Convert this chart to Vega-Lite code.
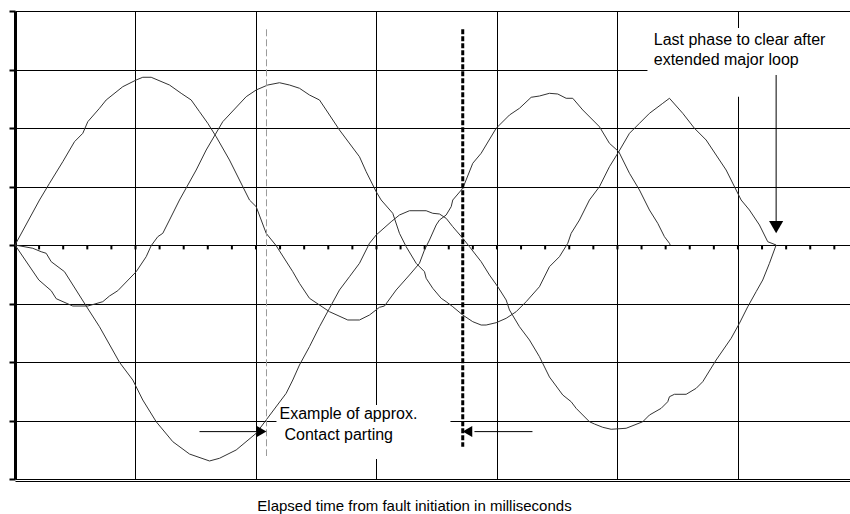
{
  "$schema": "https://vega.github.io/schema/vega-lite/v6.json",
  "width": 835,
  "height": 468,
  "autosize": {"type": "none"},
  "padding": {"left": 15, "top": 11, "right": 0, "bottom": 35},
  "background": "white",
  "config": {"view": {"stroke": null}, "font": "Liberation Sans"},
  "datasets": {
    "waves": [
      {"p": "A", "t": 0, "v": 0}, {"p": "A", "t": 1.017, "v": 0.769}, {"p": "A", "t": 1.432, "v": 1.055}, {"p": "A", "t": 1.983, "v": 1.424},
      {"p": "A", "t": 2.469, "v": 1.766}, {"p": "A", "t": 2.813, "v": 1.909}, {"p": "A", "t": 3.021, "v": 2.108}, {"p": "A", "t": 3.506, "v": 2.337},
      {"p": "A", "t": 3.784, "v": 2.479}, {"p": "A", "t": 4.473, "v": 2.706}, {"p": "A", "t": 5.029, "v": 2.821}, {"p": "A", "t": 5.303, "v": 2.867},
      {"p": "A", "t": 5.651, "v": 2.867}, {"p": "A", "t": 6.411, "v": 2.735}, {"p": "A", "t": 6.896, "v": 2.593}, {"p": "A", "t": 7.311, "v": 2.479},
      {"p": "A", "t": 7.656, "v": 2.279}, {"p": "A", "t": 8.0, "v": 2.08}, {"p": "A", "t": 8.349, "v": 1.851}, {"p": "A", "t": 8.9, "v": 1.453},
      {"p": "A", "t": 9.315, "v": 1.111}, {"p": "A", "t": 9.73, "v": 0.769}, {"p": "A", "t": 10.008, "v": 0.655}, {"p": "A", "t": 10.423, "v": 0.2},
      {"p": "A", "t": 10.838, "v": -0.012}, {"p": "A", "t": 11.527, "v": -0.456}, {"p": "A", "t": 11.805, "v": -0.655}, {"p": "A", "t": 12.22, "v": -0.911},
      {"p": "A", "t": 13.05, "v": -1.14}, {"p": "A", "t": 13.809, "v": -1.282}, {"p": "A", "t": 14.295, "v": -1.282}, {"p": "A", "t": 14.71, "v": -1.197},
      {"p": "A", "t": 15.124, "v": -1.065}, {"p": "A", "t": 15.332, "v": -1.043}, {"p": "A", "t": 15.817, "v": -0.769}, {"p": "A", "t": 16.369, "v": -0.513},
      {"p": "A", "t": 16.784, "v": -0.313}, {"p": "A", "t": 16.992, "v": -0.085}, {"p": "A", "t": 17.199, "v": 0.085}, {"p": "A", "t": 17.477, "v": 0.342},
      {"p": "A", "t": 17.614, "v": 0.427}, {"p": "A", "t": 17.892, "v": 0.513}, {"p": "A", "t": 18.1, "v": 0.655}, {"p": "A", "t": 18.166, "v": 0.769},
      {"p": "A", "t": 18.581, "v": 0.969}, {"p": "A", "t": 18.996, "v": 1.397}, {"p": "A", "t": 19.344, "v": 1.568}, {"p": "A", "t": 19.967, "v": 1.995},
      {"p": "A", "t": 20.519, "v": 2.222}, {"p": "A", "t": 20.934, "v": 2.337}, {"p": "A", "t": 21.419, "v": 2.525}, {"p": "A", "t": 21.763, "v": 2.547},
      {"p": "A", "t": 22.178, "v": 2.593}, {"p": "A", "t": 22.523, "v": 2.581}, {"p": "A", "t": 22.871, "v": 2.508}, {"p": "A", "t": 23.145, "v": 2.508},
      {"p": "A", "t": 23.56, "v": 2.308}, {"p": "A", "t": 24.253, "v": 2.022}, {"p": "A", "t": 24.668, "v": 1.738}, {"p": "A", "t": 25.054, "v": 1.595},
      {"p": "A", "t": 25.498, "v": 1.226}, {"p": "A", "t": 25.913, "v": 0.94}, {"p": "A", "t": 26.12, "v": 0.769}, {"p": "A", "t": 26.328, "v": 0.598},
      {"p": "A", "t": 26.672, "v": 0.371}, {"p": "A", "t": 26.95, "v": 0.142}, {"p": "A", "t": 27.158, "v": 0.029}, {"p": "A", "t": 27.187, "v": 0},

      {"p": "B", "t": 0, "v": 0}, {"p": "B", "t": 0.988, "v": -0.598}, {"p": "B", "t": 1.502, "v": -0.781}, {"p": "B", "t": 1.71, "v": -0.918},
      {"p": "B", "t": 2.398, "v": -1.043}, {"p": "B", "t": 3.021, "v": -1.043}, {"p": "B", "t": 3.643, "v": -0.969}, {"p": "B", "t": 3.921, "v": -0.872},
      {"p": "B", "t": 4.266, "v": -0.781}, {"p": "B", "t": 5.029, "v": -0.456}, {"p": "B", "t": 5.444, "v": -0.2}, {"p": "B", "t": 5.651, "v": -0.012},
      {"p": "B", "t": 5.925, "v": 0.142}, {"p": "B", "t": 6.133, "v": 0.2}, {"p": "B", "t": 6.411, "v": 0.427}, {"p": "B", "t": 6.826, "v": 0.769},
      {"p": "B", "t": 7.519, "v": 1.282}, {"p": "B", "t": 7.934, "v": 1.624}, {"p": "B", "t": 8.622, "v": 2.108}, {"p": "B", "t": 9.593, "v": 2.535},
      {"p": "B", "t": 10.008, "v": 2.65}, {"p": "B", "t": 10.49, "v": 2.735}, {"p": "B", "t": 10.975, "v": 2.774}, {"p": "B", "t": 11.39, "v": 2.735},
      {"p": "B", "t": 11.805, "v": 2.679}, {"p": "B", "t": 12.22, "v": 2.564}, {"p": "B", "t": 12.635, "v": 2.479}, {"p": "B", "t": 12.913, "v": 2.308},
      {"p": "B", "t": 13.465, "v": 1.966}, {"p": "B", "t": 14.295, "v": 1.509}, {"p": "B", "t": 14.573, "v": 1.253}, {"p": "B", "t": 14.988, "v": 0.911},
      {"p": "B", "t": 15.195, "v": 0.769}, {"p": "B", "t": 15.676, "v": 0.542}, {"p": "B", "t": 15.954, "v": 0.2}, {"p": "B", "t": 16.232, "v": -0.029},
      {"p": "B", "t": 16.647, "v": -0.313}, {"p": "B", "t": 16.992, "v": -0.456}, {"p": "B", "t": 17.062, "v": -0.569}, {"p": "B", "t": 17.336, "v": -0.74},
      {"p": "B", "t": 17.685, "v": -0.911}, {"p": "B", "t": 17.892, "v": -0.969}, {"p": "B", "t": 18.166, "v": -1.055}, {"p": "B", "t": 18.581, "v": -1.197},
      {"p": "B", "t": 18.996, "v": -1.311}, {"p": "B", "t": 19.344, "v": -1.368}, {"p": "B", "t": 19.552, "v": -1.368}, {"p": "B", "t": 19.967, "v": -1.328},
      {"p": "B", "t": 20.382, "v": -1.253}, {"p": "B", "t": 20.797, "v": -1.14}, {"p": "B", "t": 21.212, "v": -0.969}, {"p": "B", "t": 21.763, "v": -0.713},
      {"p": "B", "t": 22.178, "v": -0.371}, {"p": "B", "t": 22.593, "v": -0.2}, {"p": "B", "t": 22.938, "v": 0.029}, {"p": "B", "t": 23.079, "v": 0.2},
      {"p": "B", "t": 23.423, "v": 0.427}, {"p": "B", "t": 23.838, "v": 0.769}, {"p": "B", "t": 24.253, "v": 0.997}, {"p": "B", "t": 24.668, "v": 1.338},
      {"p": "B", "t": 25.054, "v": 1.595}, {"p": "B", "t": 25.498, "v": 1.909}, {"p": "B", "t": 25.913, "v": 2.08}, {"p": "B", "t": 26.328, "v": 2.251},
      {"p": "B", "t": 26.88, "v": 2.422}, {"p": "B", "t": 27.158, "v": 2.508}, {"p": "B", "t": 27.71, "v": 2.251}, {"p": "B", "t": 28.195, "v": 1.995},
      {"p": "B", "t": 28.68, "v": 1.795}, {"p": "B", "t": 29.095, "v": 1.538}, {"p": "B", "t": 29.51, "v": 1.282}, {"p": "B", "t": 29.925, "v": 0.94},
      {"p": "B", "t": 30.133, "v": 0.769}, {"p": "B", "t": 30.477, "v": 0.598}, {"p": "B", "t": 30.892, "v": 0.342}, {"p": "B", "t": 31.237, "v": 0.056},
      {"p": "B", "t": 31.585, "v": 0},

      {"p": "C", "t": 0, "v": 0}, {"p": "C", "t": 0.739, "v": -0.056}, {"p": "C", "t": 1.087, "v": -0.115}, {"p": "C", "t": 1.295, "v": -0.142},
      {"p": "C", "t": 1.502, "v": -0.285}, {"p": "C", "t": 2.054, "v": -0.456}, {"p": "C", "t": 2.954, "v": -1.043}, {"p": "C", "t": 3.506, "v": -1.397},
      {"p": "C", "t": 4.336, "v": -2.005}, {"p": "C", "t": 4.888, "v": -2.308}, {"p": "C", "t": 5.303, "v": -2.65}, {"p": "C", "t": 5.859, "v": -3.021},
      {"p": "C", "t": 6.548, "v": -3.362}, {"p": "C", "t": 7.241, "v": -3.573}, {"p": "C", "t": 8.071, "v": -3.692}, {"p": "C", "t": 8.485, "v": -3.646},
      {"p": "C", "t": 9.178, "v": -3.504}, {"p": "C", "t": 10.008, "v": -3.219}, {"p": "C", "t": 10.423, "v": -2.991}, {"p": "C", "t": 11.253, "v": -2.535},
      {"p": "C", "t": 11.527, "v": -2.308}, {"p": "C", "t": 11.805, "v": -2.051}, {"p": "C", "t": 12.22, "v": -1.738}, {"p": "C", "t": 12.635, "v": -1.397},
      {"p": "C", "t": 13.05, "v": -1.082}, {"p": "C", "t": 13.465, "v": -0.769}, {"p": "C", "t": 13.88, "v": -0.542}, {"p": "C", "t": 14.295, "v": -0.313},
      {"p": "C", "t": 14.71, "v": 0.029}, {"p": "C", "t": 14.988, "v": 0.171}, {"p": "C", "t": 15.61, "v": 0.398}, {"p": "C", "t": 15.954, "v": 0.513},
      {"p": "C", "t": 16.369, "v": 0.586}, {"p": "C", "t": 17.062, "v": 0.586}, {"p": "C", "t": 17.336, "v": 0.542}, {"p": "C", "t": 17.614, "v": 0.53},
      {"p": "C", "t": 17.892, "v": 0.456}, {"p": "C", "t": 18.166, "v": 0.313}, {"p": "C", "t": 18.581, "v": 0.115}, {"p": "C", "t": 18.859, "v": -0.029},
      {"p": "C", "t": 19.344, "v": -0.285}, {"p": "C", "t": 19.689, "v": -0.513}, {"p": "C", "t": 20.033, "v": -0.713}, {"p": "C", "t": 20.382, "v": -0.94},
      {"p": "C", "t": 20.519, "v": -1.111}, {"p": "C", "t": 20.934, "v": -1.397}, {"p": "C", "t": 21.349, "v": -1.624}, {"p": "C", "t": 21.763, "v": -1.909},
      {"p": "C", "t": 22.178, "v": -2.256}, {"p": "C", "t": 22.73, "v": -2.564}, {"p": "C", "t": 23.079, "v": -2.679}, {"p": "C", "t": 23.286, "v": -2.792},
      {"p": "C", "t": 23.838, "v": -3.021}, {"p": "C", "t": 24.046, "v": -3.06}, {"p": "C", "t": 24.39, "v": -3.116}, {"p": "C", "t": 24.739, "v": -3.15},
      {"p": "C", "t": 25.361, "v": -3.133}, {"p": "C", "t": 26.05, "v": -3.021}, {"p": "C", "t": 26.328, "v": -2.906}, {"p": "C", "t": 26.813, "v": -2.792},
      {"p": "C", "t": 27.087, "v": -2.679}, {"p": "C", "t": 27.158, "v": -2.593}, {"p": "C", "t": 27.365, "v": -2.552}, {"p": "C", "t": 27.851, "v": -2.552},
      {"p": "C", "t": 28.266, "v": -2.45}, {"p": "C", "t": 28.539, "v": -2.337}, {"p": "C", "t": 29.095, "v": -1.966}, {"p": "C", "t": 29.718, "v": -1.595},
      {"p": "C", "t": 30.062, "v": -1.338}, {"p": "C", "t": 30.407, "v": -1.055}, {"p": "C", "t": 30.755, "v": -0.798}, {"p": "C", "t": 31.029, "v": -0.598},
      {"p": "C", "t": 31.307, "v": -0.313}, {"p": "C", "t": 31.585, "v": 0}
    ],
    "minorTicks": [
      {"t": 1}, {"t": 2}, {"t": 3}, {"t": 4}, {"t": 5}, {"t": 6}, {"t": 7}, {"t": 8}, {"t": 9}, {"t": 10},
      {"t": 11}, {"t": 12}, {"t": 13}, {"t": 14}, {"t": 15}, {"t": 16}, {"t": 17}, {"t": 18}, {"t": 19}, {"t": 20},
      {"t": 21}, {"t": 22}, {"t": 23}, {"t": 24}, {"t": 25}, {"t": 26}, {"t": 27}, {"t": 28}, {"t": 29}, {"t": 30},
      {"t": 31}, {"t": 32}, {"t": 33}, {"t": 34}
    ],
    "labelBoxes": [
      {"t": 26.245, "t2": 34.65, "v": 3.709, "v2": 2.535},
      {"t": 10.85, "t2": 18.07, "v": -2.735, "v2": -3.658}
    ],
    "partingFirst": [{"t": 10.436, "v": 3.687, "v2": -3.607}],
    "partingLast": [{"t": 18.58, "v": 3.687, "v2": -3.448}],
    "arrowShafts": [
      {"t": 31.585, "t2": 31.585, "v": 2.906, "v2": 0.393},
      {"t": 7.656, "t2": 10.062, "v": -3.19, "v2": -3.19},
      {"t": 21.473, "t2": 19.066, "v": -3.19, "v2": -3.19}
    ],
    "headDown": [{"t": 31.585, "v": 0.304}],
    "headRight": [{"t": 10.236, "v": -3.19}],
    "headLeft": [{"t": 18.776, "v": -3.19}],
    "notes": [
      {"t": 26.506, "v": 3.419, "label": "Last phase to clear after"},
      {"t": 26.506, "v": 3.077, "label": "extended major loop"},
      {"t": 10.975, "v": -2.979, "label": "Example of approx."},
      {"t": 11.183, "v": -3.333, "label": "Contact parting"}
    ]
  },
  "layer": [
    {
      "data": {"name": "labelBoxes"},
      "mark": {"type": "rect", "fill": "white", "stroke": null},
      "encoding": {
        "x": {
          "field": "t", "type": "quantitative",
          "scale": {"domain": [0, 34.65], "nice": false, "zero": false},
          "axis": {
            "title": "Elapsed time from fault initiation in milliseconds",
            "titleFont": "Liberation Sans", "titleFontSize": 15, "titleFontWeight": "normal", "titleColor": "black",
            "titleX": 399, "titleY": 29, "titleAlign": "center", "titleBaseline": "alphabetic",
            "values": [5, 10, 15, 20, 25, 30],
            "labels": false, "ticks": false,
            "domain": true, "domainColor": "black", "domainWidth": 1, "offset": 2,
            "grid": true, "gridColor": "black", "gridWidth": 1, "gridOpacity": 1
          }
        },
        "x2": {"field": "t2"},
        "y": {
          "field": "v", "type": "quantitative",
          "scale": {"domain": [-4, 4], "nice": false, "zero": false},
          "axis": {
            "title": null,
            "values": [-4, -3, -2, -1, 0, 1, 2, 3, 4],
            "labels": false,
            "ticks": true, "tickColor": "black", "tickSize": 6, "tickWidth": 2,
            "domain": true, "domainColor": "black", "domainWidth": 3,
            "grid": true, "gridColor": "black", "gridWidth": 1, "gridOpacity": 1
          }
        },
        "y2": {"field": "v2"}
      }
    },
    {
      "mark": {"type": "rule", "color": "black", "strokeWidth": 2.5},
      "encoding": {"y": {"datum": 4}}
    },
    {
      "mark": {"type": "rule", "color": "black", "strokeWidth": 2.5},
      "encoding": {"y": {"datum": 0}}
    },
    {
      "mark": {"type": "rule", "color": "black", "strokeWidth": 2},
      "encoding": {"y": {"datum": -4}}
    },
    {
      "data": {"name": "minorTicks"},
      "mark": {"type": "rule", "color": "black", "strokeWidth": 2, "strokeCap": "butt"},
      "encoding": {
        "x": {"field": "t", "type": "quantitative"},
        "y": {"datum": 0},
        "y2": {"datum": -0.075}
      }
    },
    {
      "data": {"name": "waves"},
      "mark": {"type": "line", "color": "#333333", "strokeWidth": 1},
      "encoding": {
        "x": {"field": "t", "type": "quantitative"},
        "y": {"field": "v", "type": "quantitative"},
        "detail": {"field": "p"}
      }
    },
    {
      "data": {"name": "partingFirst"},
      "mark": {"type": "rule", "color": "#9a9a9a", "strokeWidth": 1, "strokeDash": [7, 3]},
      "encoding": {
        "x": {"field": "t", "type": "quantitative"},
        "y": {"field": "v", "type": "quantitative"},
        "y2": {"field": "v2"}
      }
    },
    {
      "data": {"name": "partingLast"},
      "mark": {"type": "rule", "color": "black", "strokeWidth": 3, "strokeDash": [5, 2], "strokeCap": "butt"},
      "encoding": {
        "x": {"field": "t", "type": "quantitative"},
        "y": {"field": "v", "type": "quantitative"},
        "y2": {"field": "v2"}
      }
    },
    {
      "data": {"name": "arrowShafts"},
      "mark": {"type": "rule", "color": "black", "strokeWidth": 1},
      "encoding": {
        "x": {"field": "t", "type": "quantitative"},
        "x2": {"field": "t2"},
        "y": {"field": "v", "type": "quantitative"},
        "y2": {"field": "v2"}
      }
    },
    {
      "data": {"name": "headDown"},
      "mark": {"type": "point", "shape": "triangle-down", "filled": true, "color": "black", "opacity": 1, "size": 200},
      "encoding": {
        "x": {"field": "t", "type": "quantitative"},
        "y": {"field": "v", "type": "quantitative"}
      }
    },
    {
      "data": {"name": "headRight"},
      "mark": {"type": "point", "shape": "triangle-right", "filled": true, "color": "black", "opacity": 1, "size": 121},
      "encoding": {
        "x": {"field": "t", "type": "quantitative"},
        "y": {"field": "v", "type": "quantitative"}
      }
    },
    {
      "data": {"name": "headLeft"},
      "mark": {"type": "point", "shape": "triangle-left", "filled": true, "color": "black", "opacity": 1, "size": 121},
      "encoding": {
        "x": {"field": "t", "type": "quantitative"},
        "y": {"field": "v", "type": "quantitative"}
      }
    },
    {
      "data": {"name": "notes"},
      "mark": {"type": "text", "align": "left", "baseline": "alphabetic", "font": "Liberation Sans", "fontSize": 16, "color": "black"},
      "encoding": {
        "x": {"field": "t", "type": "quantitative"},
        "y": {"field": "v", "type": "quantitative"},
        "text": {"field": "label"}
      }
    }
  ]
}
